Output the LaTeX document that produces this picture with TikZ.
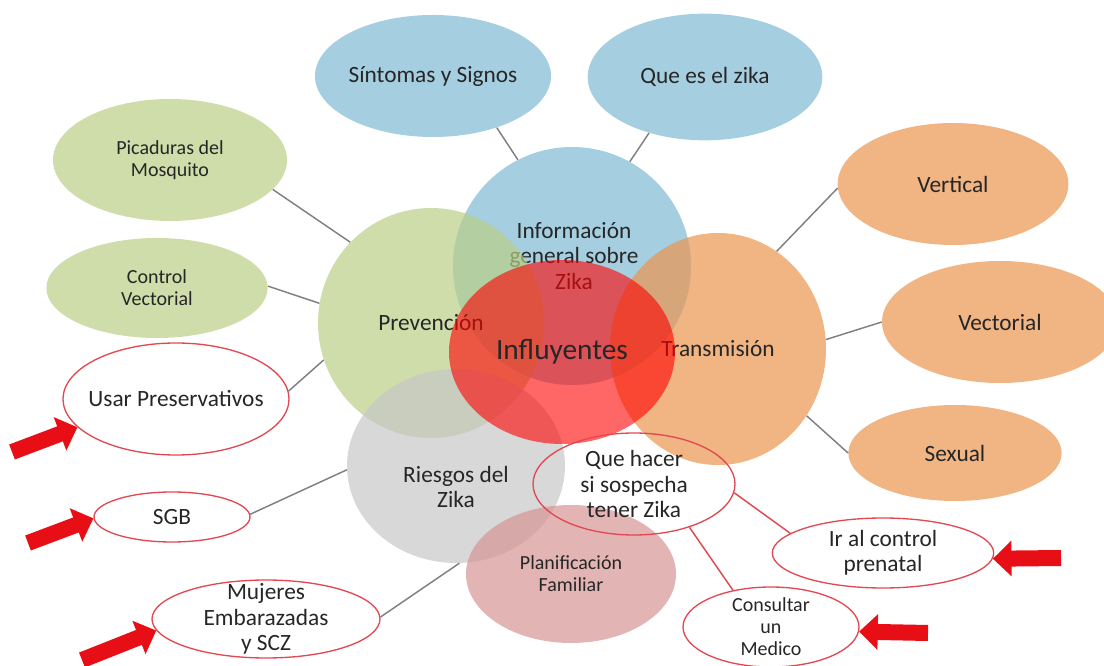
\documentclass[tikz,border=0pt]{standalone}
\usepackage{fontspec}
\setmainfont{Carlito}
\usetikzlibrary{shapes.geometric,arrows.meta}

\definecolor{zblue}{RGB}{165,207,224}
\definecolor{zgreen}{RGB}{207,221,170}
\definecolor{zorange}{RGB}{241,180,131}
\definecolor{zgreenb}{RGB}{186,206,134}
\definecolor{zorangeb}{RGB}{235,148,78}
\definecolor{zgrayb}{RGB}{199,199,199}
\definecolor{zpinkb}{RGB}{214,148,148}
\definecolor{zred}{RGB}{255,0,0}
\definecolor{zring}{RGB}{226,72,82}
\definecolor{zline}{RGB}{128,128,128}
\definecolor{zarrow}{RGB}{232,14,22}
\definecolor{ztext}{RGB}{38,38,38}

\newcommand{\bigtxt}{\fontsize{17.5}{19}\selectfont}
\newcommand{\smalltxt}{\fontsize{15}{16.5}\selectfont}
\newcommand{\hugetxt}{\fontsize{22}{24}\selectfont}

\begin{document}
\begin{tikzpicture}[x=0.75pt,y=-0.75pt,
            TOPIC/.style={ellipse, inner sep=-15pt, align=center, text=ztext, font=\bigtxt},
            BLUE/.style={TOPIC, fill=zblue},
            GREEN/.style={TOPIC, fill=zgreen},
            ORANGE/.style={TOPIC, fill=zorange},
            CORE/.style={TOPIC, fill opacity=0.7, text opacity=1},
            RING/.style={TOPIC, draw=zring, line width=1pt},
            LABEL/.style={align=center, inner sep=0pt, text=ztext, font=\bigtxt},
            LINK/.style={draw=zline, line width=1.1pt},
            POINTER/.style={draw=zarrow, line width=12pt, -{Triangle[length=14pt,width=26pt]}},
        ]
        \useasboundingbox (0,0) rectangle (1104,666);

        % satellites
        \node[BLUE, minimum width=177pt, minimum height=91.5pt] (sintomas) at (433,76) {Síntomas y Signos};
        \node[BLUE, minimum width=176pt, minimum height=95pt] (quees) at (705,77) {Que es el zika};
        \node[GREEN, font=\smalltxt, minimum width=175.5pt, minimum height=91.5pt] (picaduras) at (170,160) {Picaduras del\\Mosquito};
        \node[GREEN, font=\smalltxt, minimum width=166pt, minimum height=75pt] (control) at (157,288) {Control\\Vectorial};
        \node[ORANGE, minimum width=173pt, minimum height=91.5pt] (vertical) at (953,184) {Vertical};
        \node[ORANGE, minimum width=177pt, minimum height=91.5pt] (vectorial) at (1000,322) {Vectorial};
        \node[ORANGE, minimum width=160pt, minimum height=72pt] (sexual) at (955,453) {Sexual};

        % overlapping circles
        \node[BLUE, minimum size=178.5pt] (info) at (572,266) {};
        \node[LABEL] (infotext) at (574,256) {Información\\general sobre\\Zika};
        \node[CORE, fill=zgreenb, minimum width=169.5pt, minimum height=172.5pt] (prev) at (431,323) {Prevención};
        \node[CORE, fill=zorangeb, minimum width=162pt, minimum height=174pt] (trans) at (718,349) {Transmisión};
        \node[CORE, fill=zgrayb, minimum width=163.5pt, minimum height=145.5pt] (riesgos) at (456,466) {};
        \node[LABEL] (riesgostext) at (456,487) {Riesgos del\\Zika};
        \node[CORE, fill=zpinkb, font=\smalltxt, minimum width=157.5pt, minimum height=103.5pt] (plan) at (571,574) {Planificación\\Familiar};
        \node[CORE, fill=zred, fill opacity=0.6, font=\hugetxt, minimum width=169.5pt, minimum height=138pt] (infl) at (562,352) {Influyentes};

        % red outlined
        \node[RING, minimum width=169.5pt, minimum height=84pt] (usar) at (176,399) {Usar Preservativos};
        \node[RING, minimum width=117pt, minimum height=37.5pt] (sgb) at (172,517) {SGB};
        \node[RING, minimum width=171pt, minimum height=58.5pt] (mujeres) at (266,619) {Mujeres\\Embarazadas\\y SCZ};
        \node[RING, minimum width=151.5pt, minimum height=76.5pt] (quehacer) at (634,484) {Que hacer\\si sospecha\\tener Zika};
        \node[RING, minimum width=166pt, minimum height=52.5pt] (ircontrol) at (883,553) {Ir al control\\prenatal};
        \node[RING, font=\smalltxt, minimum width=132pt, minimum height=60pt] (consultar) at (771,627) {Consultar\\un\\Medico};

        \draw[LINK] (picaduras.-16) -- (prev.135);
        \draw[LINK] (control.1) -- (prev.170);
        \draw[LINK] (usar.4) -- (prev.199);
        \draw[LINK] (sgb.2) -- (riesgos.182);
        \draw[LINK] (mujeres.1) -- (riesgos.-88);
        \draw[LINK] (sintomas.-39) -- (info.117);
        \draw[LINK] (quees.-135) -- (info.61);
        \draw[LINK] (trans.59) -- (vertical.182);
        \draw[LINK] (trans.5) -- (vectorial.180);
        \draw[LINK] (trans.-37) -- (sexual.180);
        \draw[LINK, draw=zring] (quehacer.-5) -- (ircontrol.168);
        \draw[LINK, draw=zring] (quehacer.-38) -- (consultar.136);

        \coordinate (p1) at (12,452);
        \coordinate (p2) at (28,543);
        \coordinate (p3) at (82,660);
        \coordinate (p4) at (1061,558);
        \coordinate (p5) at (928,633);
        \draw[POINTER] (p1) -- (usar.196);
        \draw[POINTER] (p2) -- (sgb.181);
        \draw[POINTER] (p3) -- (mujeres.186);
        \draw[POINTER] (p4) -- (ircontrol.-3);
        \draw[POINTER] (p5) -- (consultar.-3);

    \end{tikzpicture}
\end{document}
